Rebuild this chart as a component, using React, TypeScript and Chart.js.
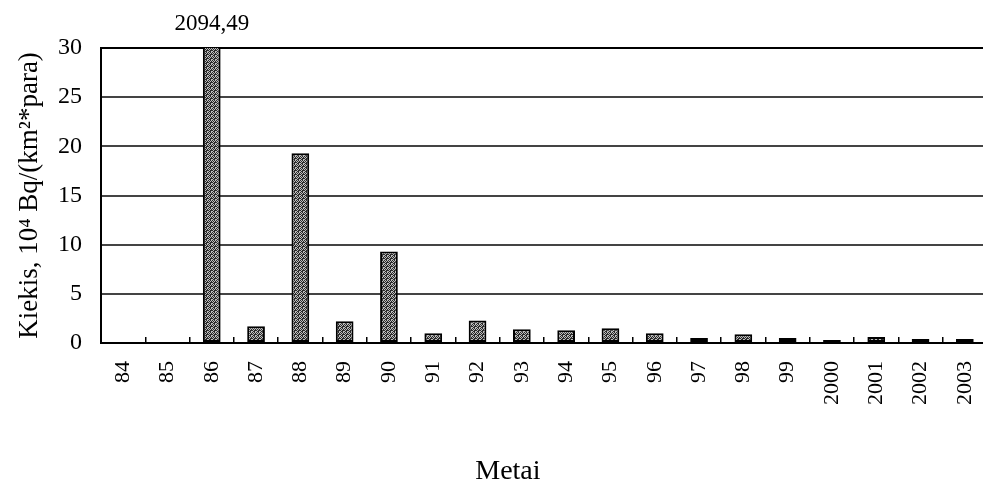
import { useEffect, useRef } from "react";
import { Chart, registerables } from "chart.js";

Chart.register(...registerables);

const categories = ["84", "85", "86", "87", "88", "89", "90", "91", "92", "93", "94", "95", "96", "97", "98", "99", "2000", "2001", "2002", "2003"];
const values = [0, 0, 2094.49, 1.7, 19.3, 2.2, 9.3, 1.0, 2.3, 1.4, 1.3, 1.5, 1.0, 0.5, 0.9, 0.5, 0.3, 0.6, 0.4, 0.4];
const yMin = 0;
const yMax = 30;
const yStep = 5;
const peakIndex = 2;
const peakLabel = "2094,49";
const yTitle = "Kiekis, 10\u2074 Bq/(km\u00B2*para)";
const xTitle = "Metai";

const FONT = "'Liberation Serif', 'Times New Roman', serif";

export default function App() {
  const ref = useRef<HTMLCanvasElement | null>(null);

  useEffect(() => {
    const canvas = ref.current;
    if (!canvas) return;
    const ctx = canvas.getContext("2d")!;

    const pc = document.createElement("canvas");
    pc.width = 4;
    pc.height = 4;
    const p = pc.getContext("2d")!;
    p.fillStyle = "#bdbdbd";
    p.fillRect(0, 0, 4, 4);
    p.fillStyle = "#2a2a2a";
    const dots = [[0, 0], [2, 0], [1, 1], [3, 1], [0, 2], [3, 2], [1, 3], [2, 3], [2, 2]];
    dots.forEach(([x, y]) => p.fillRect(x, y, 1, 1));
    const pattern = ctx.createPattern(pc, "repeat") || "#888";

    const labelsPlugin = {
      id: "labelsPlugin",
      afterDraw(chart: any) {
        const c = chart.ctx;
        const meta = chart.getDatasetMeta(0);
        const el = meta.data[peakIndex];
        c.save();
        c.fillStyle = "#000";
        c.font = `23px ${FONT}`;
        c.textAlign = "center";
        c.textBaseline = "alphabetic";
        c.fillText(peakLabel, el.x, chart.chartArea.top - 18);
        c.font = `28px ${FONT}`;
        c.fillText(xTitle, chart.width * 0.512, chart.height - 5);
        c.restore();
      },
    };

    const chart = new Chart(ctx, {
      type: "bar",
      data: {
        labels: categories,
        datasets: [
          {
            data: values,
            backgroundColor: pattern as any,
            borderColor: "#000",
            borderWidth: 2,
            borderSkipped: false,
            barPercentage: 0.4,
            categoryPercentage: 1,
          },
        ],
      },
      options: {
        animation: false,
        responsive: false,
        maintainAspectRatio: false,
        layout: { padding: { top: 48, right: 5, bottom: 0, left: 0 } },
        plugins: {
          legend: { display: false },
          tooltip: { enabled: false },
          title: { display: false },
        },
        scales: {
          x: {
            offset: true,
            grid: {
              offset: true,
              drawOnChartArea: false,
              drawTicks: true,
              tickLength: -6,
              color: "#000",
              lineWidth: 1.5,
            },
            border: { display: true, color: "#000", width: 2 },
            ticks: {
              autoSkip: false,
              maxRotation: 90,
              minRotation: 90,
              padding: 24,
              color: "#000",
              font: { family: FONT, size: 22 },
            },
            afterFit(scale: any) {
              scale.height = 141;
              scale.paddingLeft = 0;
              scale.paddingRight = 0;
            },
          },
          y: {
            min: yMin,
            max: yMax,
            ticks: {
              stepSize: yStep,
              padding: 19,
              color: "#000",
              font: { family: FONT, size: 24 },
            },
            grid: {
              drawTicks: false,
              color: (c: any) => (c.tick && c.tick.value === yMax ? "#000" : c.tick && c.tick.value === yMin ? "rgba(0,0,0,0)" : "#444"),
              lineWidth: (c: any) => (c.tick && c.tick.value === yMax ? 2 : 2),
            },
            border: { display: true, color: "#000", width: 2 },
            title: {
              display: true,
              text: yTitle,
              color: "#000",
              font: { family: FONT, size: 27 },
              padding: { top: 14, bottom: 0 },
            },
            afterFit(scale: any) {
              scale.width = 101;
              scale.paddingTop = 0;
              scale.paddingBottom = 0;
            },
          },
        },
      },
      plugins: [labelsPlugin],
    });

    return () => chart.destroy();
  }, []);

  return (
    <div style={{ position: "fixed", left: 0, top: 0, width: 992, height: 484, background: "#fff" }}>
      <canvas ref={ref} width={992} height={484} style={{ width: 992, height: 484, display: "block" }} />
    </div>
  );
}
